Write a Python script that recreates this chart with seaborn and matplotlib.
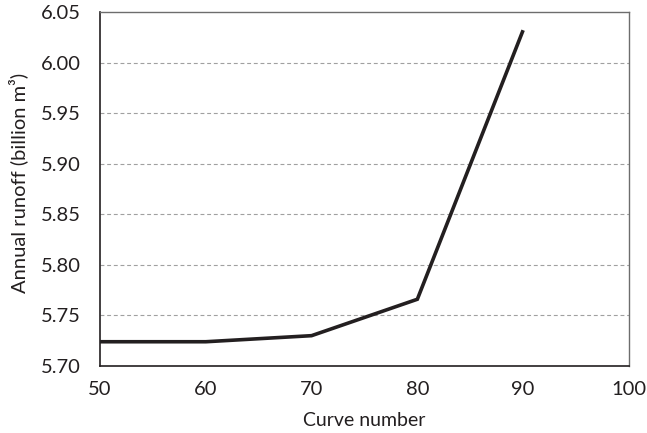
import matplotlib
matplotlib.use("Agg")
import matplotlib.pyplot as plt
import seaborn as sns
import pandas as pd

curve_number = [50, 60, 70, 80, 90]
annual_runoff = [5.724, 5.724, 5.730, 5.766, 6.032]
x_ticks = [50, 60, 70, 80, 90, 100]
y_ticks = [5.70, 5.75, 5.80, 5.85, 5.90, 5.95, 6.00, 6.05]

sns.set_style("white")
plt.rcParams['font.family'] = ['Lato', 'DejaVu Sans']

df = pd.DataFrame({"cn": curve_number, "runoff": annual_runoff})

fig = plt.figure(figsize=(6.47, 4.33), dpi=100)
ax = fig.add_axes([0.1546, 0.1547, 0.972 - 0.1546, 0.9723 - 0.1547])

for yv in y_ticks[1:-1]:
    ax.axhline(yv, color="#a0a0a0", lw=0.8, ls=(0, (3.5, 2.5)), zorder=0)

sns.lineplot(data=df, x="cn", y="runoff", ax=ax, color="#231f20", lw=2.6,
             solid_capstyle="butt", solid_joinstyle="miter")

ax.set_xlim(50, 100)
ax.set_ylim(5.70, 6.05)
ax.set_xticks(x_ticks)
ax.set_yticks(y_ticks)
ax.set_xticklabels([str(v) for v in x_ticks], fontsize=14.5, color="#231f20")
ax.set_yticklabels([f"{v:.2f}" for v in y_ticks], fontsize=14.5, color="#231f20")
ax.tick_params(axis="y", direction="in", length=5, width=1, color="#231f20", pad=14)
ax.tick_params(axis="x", direction="in", length=5, width=1, color="#231f20", pad=11)
ax.set_xlabel("Curve number", fontsize=14, color="#231f20")
ax.set_ylabel("Annual runoff (billion m³)", fontsize=14.5, color="#231f20")
ax.xaxis.set_label_coords(0.5, -0.13)
ax.yaxis.set_label_coords(-0.135, 0.517)

for side in ["left", "bottom"]:
    ax.spines[side].set_color("#231f20")
    ax.spines[side].set_linewidth(1.2)
for side in ["top", "right"]:
    ax.spines[side].set_color("#6d6d6d")
    ax.spines[side].set_linewidth(1.0)

fig.savefig("out.png", dpi=100)
